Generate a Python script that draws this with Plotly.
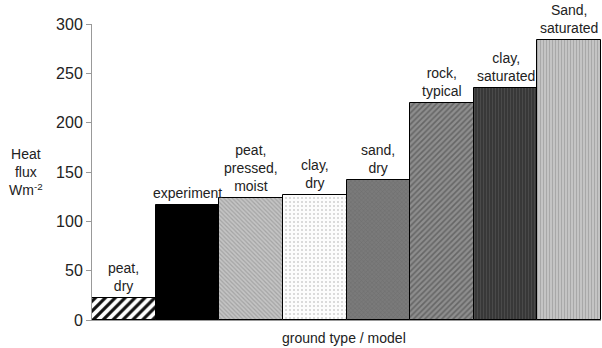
import plotly.graph_objects as go

categories = ["peat,<br>dry", "experiment", "peat,<br>pressed,<br>moist", "clay,<br>dry",
              "sand,<br>dry", "rock,<br>typical", "clay,<br>saturated", "Sand,<br>saturated"]
values = [22, 117, 124, 127, 142, 220, 235, 284]
y_ticks = [0, 50, 100, 150, 200, 250, 300]

shapes_p = ["/", "", "\\", ".", "x", "/", "|", "|"]
bgcolors = ["#ffffff", "#000000", "#c4c4c4", "#fdfdfd", "#7a7a7a", "#8e8e8e", "#383838", "#c4c4c4"]
fgcolors = ["#111111", "#000000", "#a4a4a4", "#d0d0d0", "#6c6c6c", "#666666", "#4a4a4a", "#a8a8a8"]
psizes = [7, 4, 3, 4, 3, 4, 3, 3]
solid = [0.45, 0.3, 0.4, 0.2, 0.3, 0.4, 0.35, 0.35]

fig = go.Figure()
for i, v in enumerate(values):
    fig.add_trace(go.Bar(
        x=[i], y=[v], width=1,
        marker=dict(
            color=bgcolors[i],
            line=dict(color="#000000", width=1),
            pattern=dict(shape=shapes_p[i], fgcolor=fgcolors[i], fgopacity=1,
                         size=psizes[i], solidity=solid[i], fillmode="overlay"),
        ),
        showlegend=False, hoverinfo="skip",
    ))

for i, (c, v) in enumerate(zip(categories, values)):
    fig.add_annotation(x=i, y=v, text=c, showarrow=False, yanchor="bottom", yshift=2,
                       font=dict(family="Liberation Sans, Arial", size=14, color="#222222"))

fig.add_annotation(xref="paper", yref="y", x=-0.13, y=150, text="Heat<br>flux<br>Wm<sup>-2</sup>",
                   showarrow=False, xanchor="center", yanchor="middle",
                   font=dict(family="Liberation Sans, Arial", size=14, color="#222222"))

fig.add_annotation(xref="paper", yref="paper", x=0.496, y=0, yshift=-18,
                   text="ground type / model", showarrow=False, xanchor="center", yanchor="middle",
                   font=dict(family="Liberation Sans, Arial", size=14, color="#222222"))

fig.update_layout(
    width=602, height=348,
    margin=dict(l=92, r=1, t=24, b=28),
    paper_bgcolor="white", plot_bgcolor="white",
    barmode="overlay", bargap=0,
    font=dict(family="Liberation Sans, Arial", color="#222222"),
    xaxis=dict(range=[-0.5, 7.5], showticklabels=False, ticks="", showgrid=False, zeroline=False,
               showline=True, linecolor="#999999", linewidth=1, automargin=False),
    yaxis=dict(range=[0, 300], tickvals=y_ticks, ticks="outside", ticklen=5, tickcolor="#999999",
               showgrid=False, zeroline=False, showline=True, linecolor="#999999", linewidth=1,
               tickfont=dict(size=16, color="#222222"), automargin=False),
)

fig.write_html("out.html", config={"displayModeBar": False},
               post_script="document.body.style.margin='0';")
